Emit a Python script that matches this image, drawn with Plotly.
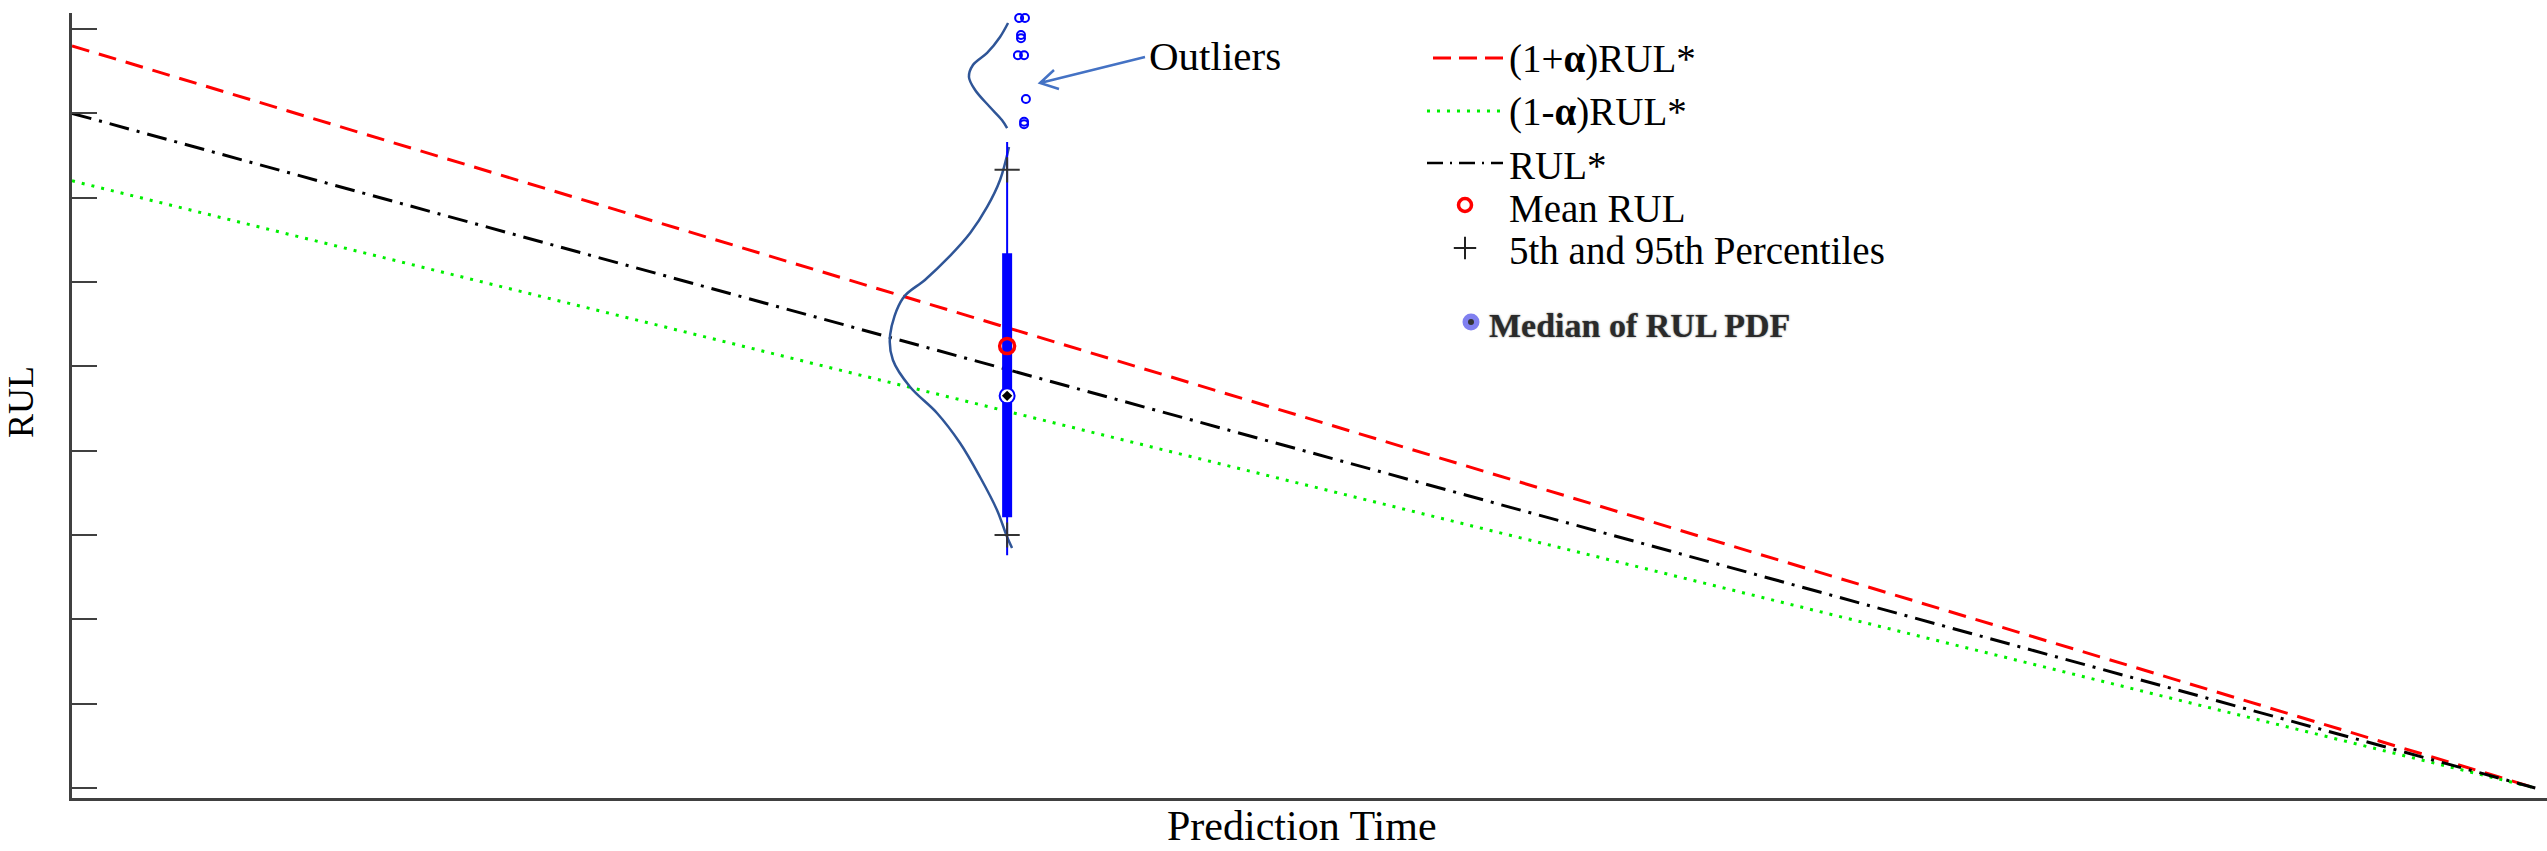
import plotly.graph_objects as go

# ---- prediction-time axis and reference RUL lines ----
pred_time = [0.0, 8.0]
rul_star = [8.0, 0.0]
rul_upper = [8.8, 0.0]   # (1+alpha) RUL*
rul_lower = [7.2, 0.0]   # (1-alpha) RUL*

# ---- RUL distribution at one prediction instant ----
box_time = [3.037]
whisker = [2.76, 7.66]
box_q = [3.21, 6.34]
pct_5_95 = [3.00, 7.33]
mean_rul = [5.24]
median_rul = [4.65]

outlier_t = [3.076, 3.095, 3.082, 3.082, 3.072, 3.092, 3.098, 3.092, 3.092]
outlier_rul = [9.13, 9.13, 8.93, 8.89, 8.69, 8.69, 8.17, 7.90, 7.87]

# PDF outline (main body) drawn sideways next to the box
pdf_main_t = [3.043, 3.014, 2.972, 2.917, 2.845, 2.770, 2.699, 2.657, 2.666,
              2.722, 2.809, 2.884, 2.949, 3.004, 3.037, 3.053]
pdf_main_rul = [7.601, 7.210, 6.890, 6.581, 6.285, 6.024, 5.811, 5.372, 5.075,
                4.755, 4.447, 4.091, 3.688, 3.297, 2.976, 2.846]
# PDF outline of the outlier cluster
pdf_tail_t = [3.040, 3.014, 2.972, 2.926, 2.913, 2.933, 2.981, 3.020, 3.037]
pdf_tail_rul = [9.071, 8.906, 8.716, 8.573, 8.431, 8.277, 8.075, 7.921, 7.826]

y_ticks = [0, 1, 2, 3, 4, 5, 6, 7, 8, 9]

SERIF = "Liberation Serif"
AXIS_GREY = "#404040"
BLUE = "#0000FF"
PDF_BLUE = "#2F5597"

# plot-area geometry (pixels) used to place the decorations
L, R, T, B = 72, 2547, 13, 798


def fx(px):
    return (px - L) / (R - L)


def fy(py):
    return (B - py) / (B - T)


fig = go.Figure()

fig.add_trace(go.Scatter(x=pred_time, y=rul_upper, mode="lines",
                         line=dict(color="#FF0000", width=3, dash="18px,10px")))
fig.add_trace(go.Scatter(x=pred_time, y=rul_lower, mode="lines",
                         line=dict(color="#00EE00", width=3, dash="3px,7px")))
fig.add_trace(go.Scatter(x=pred_time, y=rul_star, mode="lines",
                         line=dict(color="#000000", width=3,
                                   dash="20px,8px,3px,8px")))

# PDF outlines
fig.add_trace(go.Scatter(x=pdf_main_t, y=pdf_main_rul, mode="lines",
                         line=dict(color=PDF_BLUE, width=2.5, shape="spline")))
fig.add_trace(go.Scatter(x=pdf_tail_t, y=pdf_tail_rul, mode="lines",
                         line=dict(color=PDF_BLUE, width=2.5, shape="spline")))

# whisker and box
fig.add_trace(go.Scatter(x=box_time * 2, y=whisker, mode="lines",
                         line=dict(color=BLUE, width=2)))
fig.add_trace(go.Scatter(x=box_time * 2, y=box_q, mode="lines",
                         line=dict(color=BLUE, width=10)))

# 5th / 95th percentile markers
fig.add_trace(go.Scatter(x=box_time * 2, y=pct_5_95, mode="markers",
                         marker=dict(symbol="cross-thin", size=18,
                                     line=dict(color="#333333", width=2))))

# outliers
fig.add_trace(go.Scatter(x=outlier_t, y=outlier_rul, mode="markers",
                         marker=dict(symbol="circle-open", size=8,
                                     color=BLUE, line=dict(width=2))))

# mean and median
fig.add_trace(go.Scatter(x=box_time, y=mean_rul, mode="markers",
                         marker=dict(symbol="circle-open", size=15,
                                     color="#FF0000", line=dict(width=3.5))))
fig.add_trace(go.Scatter(x=box_time, y=median_rul, mode="markers",
                         marker=dict(symbol="circle", size=15, color="white",
                                     line=dict(color=BLUE, width=2))))
fig.add_trace(go.Scatter(x=box_time, y=median_rul, mode="markers",
                         marker=dict(symbol="diamond", size=8, color="black")))

# ---- legend glyphs on an overlay axis spanning the plot area ----
leg = dict(xaxis="x2", yaxis="y2", showlegend=False, hoverinfo="skip")
fig.add_trace(go.Scatter(x=[fx(1433), fx(1503)], y=[fy(58)] * 2, mode="lines",
                         line=dict(color="#FF0000", width=3, dash="18px,8px"), **leg))
fig.add_trace(go.Scatter(x=[fx(1427), fx(1503)], y=[fy(111)] * 2, mode="lines",
                         line=dict(color="#00EE00", width=3, dash="3px,7px"), **leg))
fig.add_trace(go.Scatter(x=[fx(1427), fx(1503)], y=[fy(163)] * 2, mode="lines",
                         line=dict(color="#000000", width=2.5,
                                   dash="16px,7px,2px,7px"), **leg))
fig.add_trace(go.Scatter(x=[fx(1465)], y=[fy(205)], mode="markers",
                         marker=dict(symbol="circle-open", size=13, color="#FF0000",
                                     line=dict(width=3.5)), **leg))
fig.add_trace(go.Scatter(x=[fx(1465)], y=[fy(248)], mode="markers",
                         marker=dict(symbol="cross-thin", size=16,
                                     line=dict(color="#222222", width=2)), **leg))
fig.add_trace(go.Scatter(x=[fx(1471)], y=[fy(322)], mode="markers",
                         marker=dict(symbol="circle", size=17, color="#8080F0",
                                     line=dict(width=0)), **leg))
fig.add_trace(go.Scatter(x=[fx(1471)], y=[fy(322)], mode="markers",
                         marker=dict(symbol="circle", size=6, color="#333333",
                                     line=dict(width=0)), **leg))

legend_rows = [
    ("(1+<b>α</b>)RUL*", 59.3),
    ("(1-<b>α</b>)RUL*", 112.3),
    ("RUL*", 165.3),
    ("Mean RUL", 208.3),
    ("5th and 95th Percentiles", 250.3),
]
annotations = []
for text, cy in legend_rows:
    annotations.append(dict(text=text, xref="paper", yref="paper",
                            x=fx(1507), y=fy(cy), xanchor="left", yanchor="middle",
                            showarrow=False,
                            font=dict(family=SERIF, size=39, color="black")))
annotations.append(dict(text="<b>Median of RUL PDF</b>", xref="paper", yref="paper",
                        x=fx(1487), y=fy(325.6), xanchor="left", yanchor="middle",
                        showarrow=False,
                        font=dict(family=SERIF, size=34, color="#2a2a2a",
                                  shadow="0px 0px 2px rgba(0,0,0,0.55)")))
annotations.append(dict(text="Outliers", xref="paper", yref="paper",
                        x=fx(1147), y=fy(56), xanchor="left", yanchor="middle",
                        showarrow=False,
                        font=dict(family=SERIF, size=41, color="black")))
annotations.append(dict(text="Prediction Time", xref="paper", yref="paper",
                        x=fx(1302), y=fy(826), xanchor="center", yanchor="middle",
                        showarrow=False,
                        font=dict(family=SERIF, size=42, color="black")))
annotations.append(dict(text="RUL", xref="paper", yref="paper",
                        x=fx(21), y=fy(402), xanchor="center", yanchor="middle",
                        textangle=-90, showarrow=False,
                        font=dict(family=SERIF, size=36, color="black")))

# arrow pointing from the label to the outlier cluster
arrow_path = (f"M {fx(1145)},{fy(57)} L {fx(1040)},{fy(83)} "
              f"M {fx(1054)},{fy(70)} L {fx(1040)},{fy(83)} L {fx(1059)},{fy(89)}")
shapes = [dict(type="path", path=arrow_path, xref="paper", yref="paper",
               line=dict(color="#4472C4", width=2.5))]

fig.update_layout(
    width=2547, height=851, autosize=False,
    margin=dict(l=L, r=2547 - R, t=T, b=851 - B, pad=0),
    plot_bgcolor="white", paper_bgcolor="white",
    showlegend=False,
    xaxis=dict(range=[0, 8.038], showline=True, linecolor=AXIS_GREY, linewidth=3,
               showticklabels=False, ticks="", showgrid=False, zeroline=False),
    yaxis=dict(range=[-0.1186, 9.19], tickvals=y_ticks, ticks="inside", ticklen=25,
               tickwidth=2, tickcolor=AXIS_GREY, showticklabels=False,
               showline=True, linecolor=AXIS_GREY, linewidth=3,
               showgrid=False, zeroline=False),
    xaxis2=dict(overlaying="x", range=[0, 1], visible=False),
    yaxis2=dict(overlaying="y", range=[0, 1], visible=False),
    annotations=annotations,
    shapes=shapes,
)

fig.write_html("out.html")
